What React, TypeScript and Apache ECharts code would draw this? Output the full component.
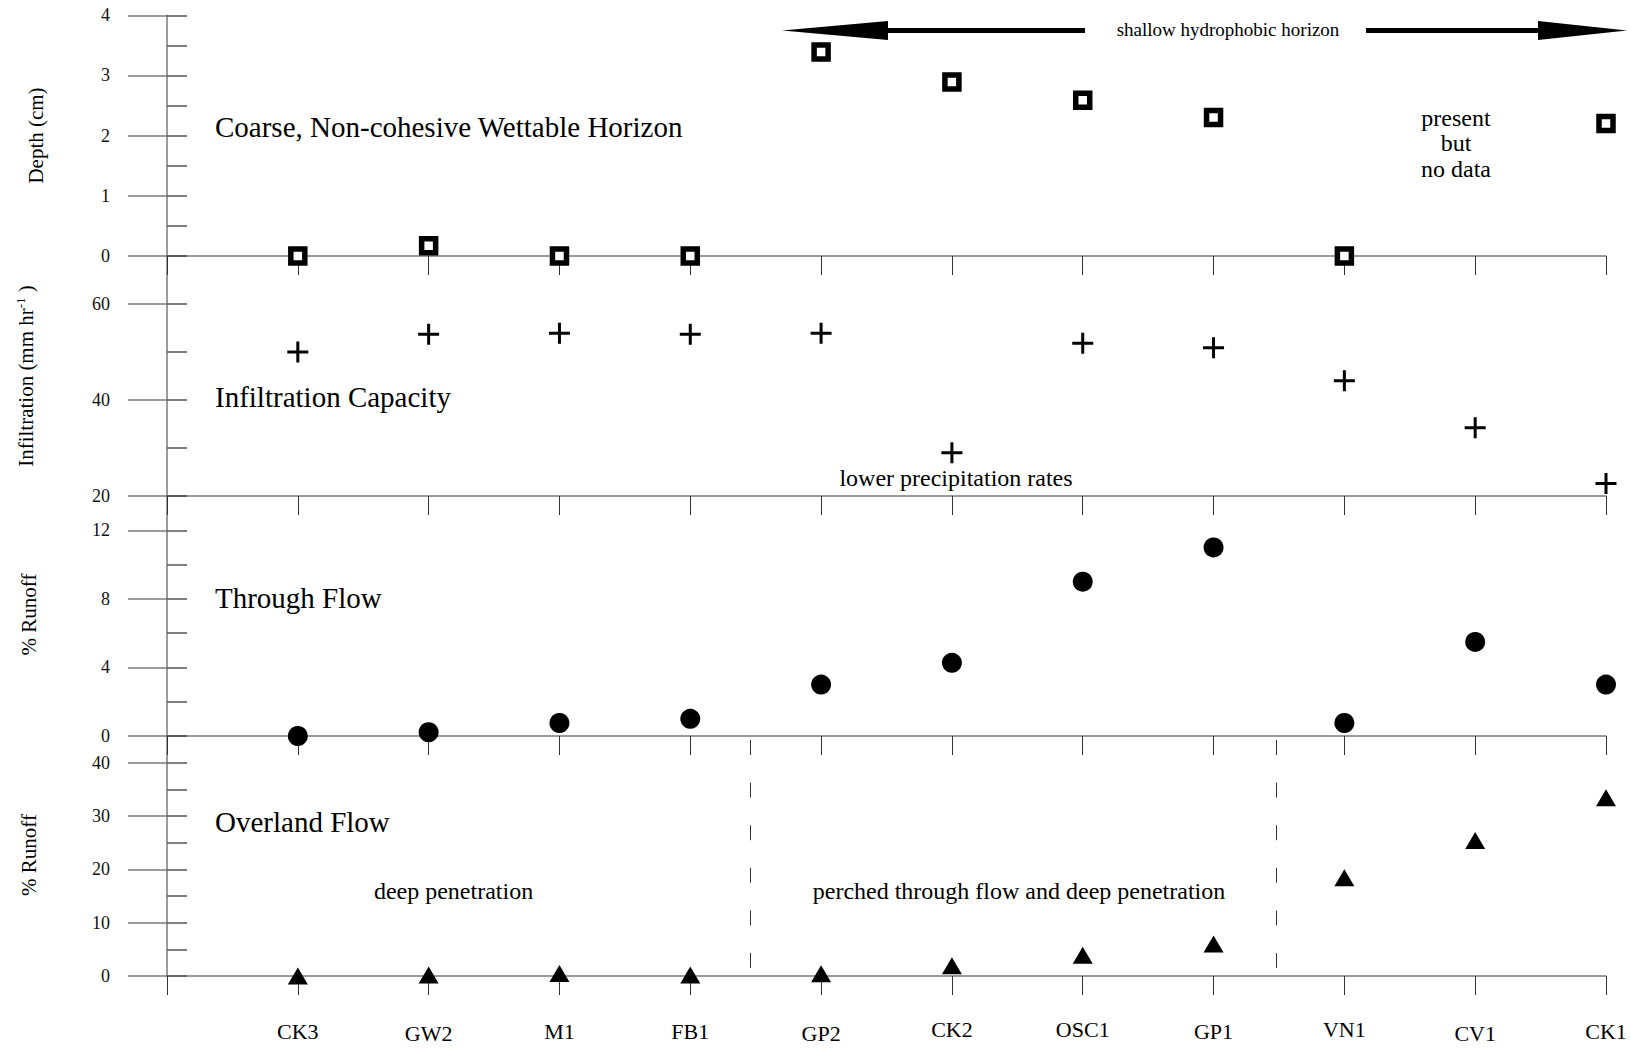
import React, { useEffect, useRef } from "react";
import * as echarts from "echarts";

const categories = ["CK3", "GW2", "M1", "FB1", "GP2", "CK2", "OSC1", "GP1", "VN1", "CV1", "CK1"];
const depthCm = [0, 0.17, 0, 0, 3.39, 2.89, 2.59, 2.3, 0, null, 2.2];
const infiltration = [50.0, 53.7, 53.9, 53.7, 53.9, 29.0, 51.8, 50.9, 44.0, 34.2, 22.6];
const throughFlow = [0, 0.22, 0.76, 1.0, 3.0, 4.27, 9.0, 11.0, 0.76, 5.49, 3.0];
const overlandFlow = [0, 0.2, 0.45, 0.2, 0.4, 1.9, 3.9, 6.0, 18.4, 25.4, 33.4];
const zoneBoundaries = [4.46, 8.48];

// label vertical stagger style (h = high, m = middle, l = low)
const labelLevel = ["m", "l", "m", "m", "l", "h", "h", "m", "h", "l", "m"];

const FONT = "Liberation Serif";
const AXIS_GRAY = "#7a7a7a";

const toPoints = (arr: (number | null)[]) =>
  arr.map((v, i) => (v === null ? null : [i + 1, v])).filter((p) => p !== null);

const panels = [
  { top: 15.3, height: 240.7, min: 0, max: 4, major: 1, minor: 0.5 },
  { top: 256, height: 240, min: 20, max: 70, major: 20, minor: 10 },
  { top: 496, height: 240, min: 0, max: 14, major: 4, minor: 2 },
  { top: 736, height: 240, min: 0, max: 45, major: 10, minor: 5 },
];

export default function App() {
  const ref = useRef<HTMLDivElement>(null);
  useEffect(() => {
    if (!ref.current) return;
    const chart = echarts.init(ref.current, undefined, { renderer: "svg" });
    const plusPath = "path://M9,0H12V9H21V12H12V21H9V12H0V9H9Z";

    const grids = panels.map((p) => ({
      left: 167,
      right: 25,
      top: p.top,
      height: p.height,
      containLabel: false,
      outerBoundsMode: "none",
    }));

    const xAxes = panels.map((_, gi) => ({
      type: "value",
      gridIndex: gi,
      min: 0,
      max: 11,
      interval: 1,
      axisLine: { show: true, onZero: false, lineStyle: { color: AXIS_GRAY, width: 1.5 } },
      axisTick: { show: true, inside: false, length: 19, lineStyle: { color: "#333", width: 1 } },
      splitLine: { show: false },
      axisLabel:
        gi === 3
          ? {
              show: true,
              margin: 42,
              formatter: (v: number) => {
                const i = Math.round(v) - 1;
                if (i < 0 || i >= categories.length) return "";
                return "{" + labelLevel[i] + "|" + categories[i] + "}";
              },
              rich: {
                h: { fontSize: 22, fontFamily: FONT, color: "#000", lineHeight: 22, padding: [0, 0, 0, 0] },
                m: { fontSize: 22, fontFamily: FONT, color: "#000", lineHeight: 22, padding: [4, 0, 0, 0] },
                l: { fontSize: 22, fontFamily: FONT, color: "#000", lineHeight: 22, padding: [8, 0, 0, 0] },
              },
            }
          : { show: false },
    }));

    const majorY = panels.map((p, gi) => ({
      type: "value",
      gridIndex: gi,
      min: p.min,
      max: p.max,
      interval: p.major,
      axisLine: { show: true, onZero: false, lineStyle: { color: AXIS_GRAY, width: 1.5 } },
      axisTick: { show: true, inside: false, length: 39, lineStyle: { color: AXIS_GRAY, width: 1.5 } },
      splitLine: { show: false },
      axisLabel: {
        show: true,
        margin: 57,
        fontSize: 18,
        fontFamily: FONT,
        color: "#111",
        showMaxLabel: gi === 0,
      },
    }));

    const minorY = panels.map((p, gi) => ({
      type: "value",
      gridIndex: gi,
      min: p.min,
      max: p.max,
      interval: p.minor,
      axisLine: { show: false },
      axisTick: { show: true, inside: false, length: 20, lineStyle: { color: "#555", width: 1.5 } },
      splitLine: { show: false },
      axisLabel: { show: false },
    }));

    const textStyle = (size: number) => ({ fontSize: size, fontFamily: FONT, fill: "#000" });

    const option: any = {
      animation: false,
      backgroundColor: "#fff",
      textStyle: { fontFamily: FONT },
      grid: grids,
      xAxis: xAxes,
      yAxis: [...majorY, ...minorY],
      series: [
        {
          name: "Depth",
          type: "scatter",
          xAxisIndex: 0,
          yAxisIndex: 0,
          data: toPoints(depthCm),
          symbol: "rect",
          symbolSize: 14,
          itemStyle: { color: "#fff", borderColor: "#000", borderWidth: 5.5, opacity: 1 },
          z: 5,
        },
        {
          name: "Infiltration Capacity",
          type: "scatter",
          xAxisIndex: 1,
          yAxisIndex: 1,
          data: toPoints(infiltration),
          symbol: plusPath,
          symbolSize: 21,
          itemStyle: { color: "#000", opacity: 1 },
          z: 5,
        },
        {
          name: "Through Flow",
          type: "scatter",
          xAxisIndex: 2,
          yAxisIndex: 2,
          data: toPoints(throughFlow),
          symbol: "circle",
          symbolSize: 20,
          itemStyle: { color: "#000", opacity: 1 },
          z: 5,
        },
        {
          name: "Overland Flow",
          type: "scatter",
          xAxisIndex: 3,
          yAxisIndex: 3,
          data: toPoints(overlandFlow),
          symbol: "triangle",
          symbolSize: [20, 17],
          itemStyle: { color: "#000", opacity: 1 },
          z: 5,
          markLine: {
            silent: true,
            symbol: ["none", "none"],
            label: { show: false },
            lineStyle: { color: "#333", width: 1, type: [15, 27.6] },
            emphasis: { disabled: true },
            data: zoneBoundaries.map((b) => [{ coord: [b, 44.25] }, { coord: [b, 1.5] }]),
          },
        },
      ],
      graphic: [
        // rotated axis titles
        {
          type: "text",
          x: 36,
          y: 135.5,
          rotation: Math.PI / 2,
          style: { ...textStyle(21), text: "Depth (cm)", align: "center", verticalAlign: "middle" },
        },
        {
          type: "text",
          x: 26,
          y: 376,
          rotation: Math.PI / 2,
          style: {
            text: "{a|Infiltration (mm hr}{s|-1}{a| )}",
            align: "center",
            verticalAlign: "middle",
            rich: {
              a: { fontSize: 21, fontFamily: FONT, fill: "#000", lineHeight: 24 },
              s: { fontSize: 13, fontFamily: FONT, fill: "#000", lineHeight: 13, verticalAlign: "top" },
            },
          },
        },
        {
          type: "text",
          x: 28.5,
          y: 614.5,
          rotation: Math.PI / 2,
          style: { ...textStyle(21), text: "% Runoff", align: "center", verticalAlign: "middle" },
        },
        {
          type: "text",
          x: 28.5,
          y: 855,
          rotation: Math.PI / 2,
          style: { ...textStyle(21), text: "% Runoff", align: "center", verticalAlign: "middle" },
        },
        // panel titles
        { type: "text", x: 215, y: 127, style: { ...textStyle(29), text: "Coarse, Non-cohesive Wettable Horizon", align: "left", verticalAlign: "middle" } },
        { type: "text", x: 215, y: 397, style: { ...textStyle(29), text: "Infiltration Capacity", align: "left", verticalAlign: "middle" } },
        { type: "text", x: 215, y: 598, style: { ...textStyle(29), text: "Through Flow", align: "left", verticalAlign: "middle" } },
        { type: "text", x: 215, y: 821.5, style: { ...textStyle(29), text: "Overland Flow", align: "left", verticalAlign: "middle" } },
        // annotations
        { type: "text", x: 1228, y: 29, style: { ...textStyle(19), text: "shallow hydrophobic horizon", align: "center", verticalAlign: "middle" } },
        { type: "text", x: 1456, y: 143, style: { ...textStyle(24), text: "present\nbut\nno data", lineHeight: 25.5, align: "center", verticalAlign: "middle" } },
        { type: "text", x: 956, y: 478, style: { ...textStyle(24), text: "lower precipitation rates", align: "center", verticalAlign: "middle" } },
        { type: "text", x: 453.5, y: 891, style: { ...textStyle(24), text: "deep penetration", align: "center", verticalAlign: "middle" } },
        { type: "text", x: 1019, y: 891, style: { ...textStyle(24), text: "perched through flow and deep penetration", align: "center", verticalAlign: "middle" } },
        // arrows
        { type: "polygon", shape: { points: [[782, 30.5], [888, 21], [888, 40]] }, style: { fill: "#000" } },
        { type: "rect", shape: { x: 887, y: 28, width: 198, height: 5 }, style: { fill: "#000" } },
        { type: "rect", shape: { x: 1366, y: 28, width: 173, height: 5 }, style: { fill: "#000" } },
        { type: "polygon", shape: { points: [[1627, 30.5], [1538, 21], [1538, 40]] }, style: { fill: "#000" } },
      ],
    };
    chart.setOption(option);
    return () => chart.dispose();
  }, []);

  return (
    <div
      ref={ref}
      style={{ position: "absolute", left: 0, top: 0, width: 1631, height: 1048, background: "#fff" }}
    />
  );
}
